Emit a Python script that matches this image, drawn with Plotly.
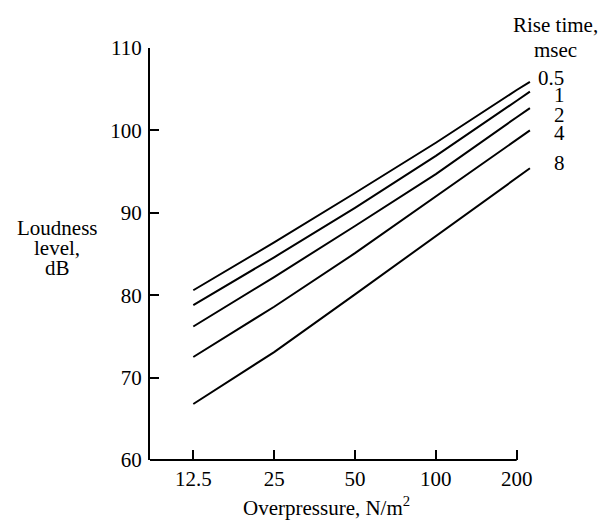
import math
import plotly.graph_objects as go

# Data
overpressure = [12.5, 25, 50, 100, 200, 224]
rise_times = ["0.5", "1", "2", "4", "8"]
loudness = {
    "0.5": [80.6, 86.4, 92.4, 98.5, 104.9, 105.9],
    "1":   [78.8, 84.6, 90.6, 96.9, 103.6, 104.7],
    "2":   [76.2, 82.2, 88.4, 94.7, 101.6, 102.7],
    "4":   [72.5, 78.6, 85.1, 92.0, 98.9, 100.0],
    "8":   [66.8, 73.1, 80.1, 87.2, 94.3, 95.4],
}
x_ticks = [12.5, 25, 50, 100, 200]
x_tick_labels = ["12.5", "25", "50", "100", "200"]
y_ticks = [60, 70, 80, 90, 100, 110]

# label vertical positions (dB) for curve labels
label_y = {"0.5": 106.4, "1": 104.3, "2": 101.9, "4": 99.7, "8": 96.0}
label_dx = {"0.5": 21, "1": 30, "2": 30, "4": 30, "8": 30}

FONT = "Liberation Serif"
FS = 21

W, H = 600, 523
L, R, T, B = 150, 60, 48, 63
PW, PH = W - L - R, H - T - B
xmin = math.log10(12.5) - 43.3 * (math.log10(2) / 80.85)
xmax = xmin + PW * (math.log10(2) / 80.85)


def px(xp):
    return (xp - L) / PW


def py(yp):
    return (H - B - yp) / PH


fig = go.Figure()
for rt in rise_times:
    fig.add_trace(go.Scatter(
        x=overpressure, y=loudness[rt], mode="lines",
        line=dict(color="black", width=2), showlegend=False, name=rt,
    ))

tfont = dict(family=FONT, size=FS, color="black")
annotations = []
for rt in rise_times:
    annotations.append(dict(
        x=math.log10(overpressure[-1]), y=label_y[rt], xref="x", yref="y",
        text=rt, showarrow=False, xshift=label_dx[rt], xanchor="center", yanchor="middle",
        font=tfont,
    ))
for txt, yp in [("Rise time,", 25), ("msec", 50)]:
    annotations.append(dict(x=px(555), y=py(yp), xref="paper", yref="paper", text=txt,
                            showarrow=False, xanchor="center", yanchor="middle", font=tfont))
for txt, yp in [("Loudness", 228), ("level,", 248), ("dB", 268)]:
    annotations.append(dict(x=px(57), y=py(yp), xref="paper", yref="paper", text=txt,
                            showarrow=False, xanchor="center", yanchor="middle", font=tfont))
annotations.append(dict(x=px(326), y=py(506), xref="paper", yref="paper",
                        text="Overpressure, N/m<sup>2</sup>", showarrow=False,
                        xanchor="center", yanchor="middle", font=tfont))

x200 = (math.log10(200) - xmin) / (xmax - xmin)

fig.update_layout(
    width=W, height=H,
    margin=dict(l=L, r=R, t=T, b=B),
    paper_bgcolor="white", plot_bgcolor="white",
    font=tfont,
    annotations=annotations,
    shapes=[dict(type="line", xref="paper", yref="paper", x0=0, x1=x200, y0=0, y1=0,
                 line=dict(color="black", width=2))],
    xaxis=dict(
        type="log", range=[xmin, xmax], tickvals=x_ticks, ticktext=x_tick_labels,
        ticks="inside", ticklen=10, tickwidth=2, tickcolor="black",
        showline=False, showgrid=False, zeroline=False, ticklabelstandoff=4,
    ),
    yaxis=dict(
        range=[60, 110], tickvals=y_ticks,
        ticks="inside", ticklen=9, tickwidth=2, tickcolor="black",
        showline=True, linecolor="black", linewidth=2,
        showgrid=False, zeroline=False, ticklabelstandoff=2,
    ),
)

fig.write_html("out.html")
